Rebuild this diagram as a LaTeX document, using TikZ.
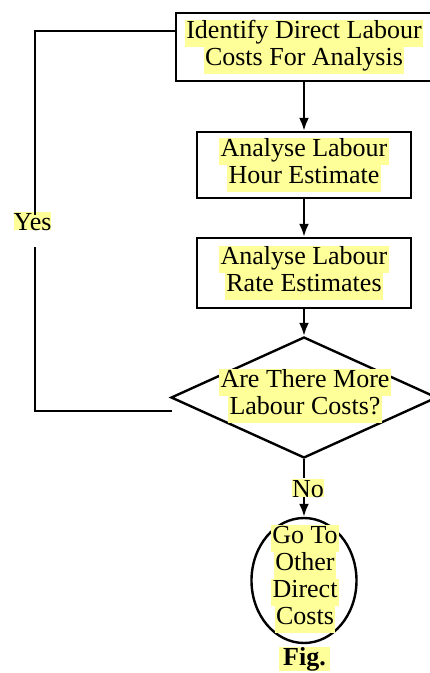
\documentclass[tikz,border=0pt]{standalone}
\usepackage{fontspec}
\setmainfont{Liberation Serif}
\usetikzlibrary{shapes.geometric,arrows.meta}
\definecolor{hlyellow}{HTML}{FFFF99}
\newcommand\hlt[1]{{\setlength{\fboxsep}{0pt}\colorbox{hlyellow}{\hspace{1.5pt}\strut #1\hspace{1.5pt}}}}
\newcommand\hls[1]{{\setlength{\fboxsep}{0pt}\colorbox{hlyellow}{\rule{0pt}{18.5pt}#1}}}
\begin{document}
\begin{tikzpicture}[x=1pt,y=-1pt,
  ln/.style={line width=2.4pt},
  arr/.style={ln,-{Latex[length=13pt,width=10pt]}},
  txt/.style={inner sep=0pt,align=center,font=\fontsize{26}{27}\selectfont},
  box/.style={txt,draw,ln,rectangle},
  shp/.style={draw,ln,inner sep=0pt}]
\useasboundingbox (0,0) rectangle (430,673);
\clip (0,0) rectangle (430,673);
\node[box,minimum width=256,minimum height=68] (b1) at (304,47) {\hlt{Identify Direct Labour}\\\hlt{Costs For Analysis}};
\node[box,minimum width=214,minimum height=66] (b2) at (304,165) {\hlt{Analyse Labour}\\\hlt{Hour Estimate}};
\node[box,minimum width=214,minimum height=70] (b3) at (304,273) {\hlt{Analyse Labour}\\\hlt{Rate Estimates}};
\node[shp,diamond,minimum width=266,minimum height=121] (d) at (304,397.5) {};
\node[txt] (dt) at (305,396) {\hlt{Are There More}\\\hlt{Labour Costs?}};
\node[shp,ellipse,minimum width=105,minimum height=125] (e) at (304,580.5) {};
\node[txt] (et) at (305,579) {\hlt{Go To}\\\hlt{Other}\\\hlt{Direct}\\\hlt{Costs}};
\node[txt,anchor=base] (no) at (308,497) {\hls{No}};
\node[txt,anchor=base] (yes) at (32.5,230) {\hls{Yes}};
\node[txt,anchor=base] (fig) at (304.5,665) {\hls{\textbf{\,Fig.\,}}};
\coordinate (dl) at (172,411);
\coordinate (ybot) at (35,247);
\coordinate (ytop) at (35,215);
\coordinate (lv) at (0,31);
\draw[arr] (b1) -- (b2);
\draw[arr] (b2) -- (b3);
\draw[arr] (b3) -- (d);
\draw[ln] (d.south) -- (d.south |- no.north);
\draw[arr] (d.south |- no.south) -- (e.north);
\draw[ln] (dl) -| (ybot);
\draw[ln] (ytop) |- (b1.west |- lv);
\end{tikzpicture}
\end{document}
